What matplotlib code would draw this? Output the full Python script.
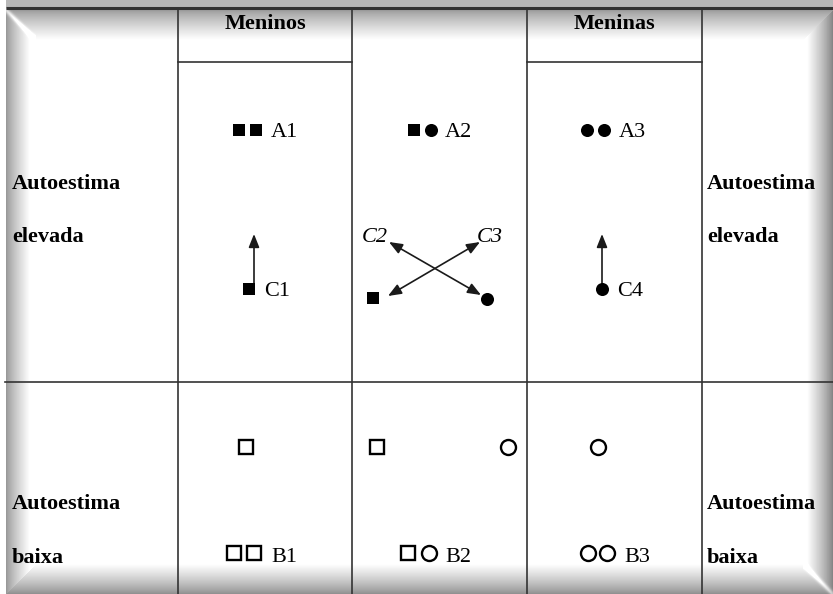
import numpy as np
import matplotlib
matplotlib.use('Agg')
import matplotlib.pyplot as plt
from matplotlib.patches import FancyArrowPatch

W, H = 833, 594

# ---------------- content ----------------
col_headers = ['Meninos', 'Meninas']
side_high = ['Autoestima', 'elevada']
side_low = ['Autoestima', 'baixa']

high_groups = [('A1', ['s', 's']), ('A2', ['s', 'o']), ('A3', ['o', 'o'])]
low_groups = [('B1', ['s', 's']), ('B2', ['s', 'o']), ('B3', ['o', 'o'])]
change_groups = [('C1', 's'), ('C4', 'o')]
cross_labels = ['C2', 'C3']
cross_symbols = ['s', 'o']
single_low = ['s', 's', 'o', 'o']

# ---------------- layout (pixels) ----------------
col_x = [178, 352, 527, 702]
header_y = 62
mid_y = 382
top_y = 8

fig = plt.figure(figsize=(W / 100, H / 100), dpi=100)
ax = fig.add_axes([0, 0, 1, 1])
ax.set_xlim(0, W)
ax.set_ylim(H, 0)
ax.axis('off')

# ---- bevel shadow frame ----
yy, xx = np.mgrid[0:H, 0:W] + 0.5
dl = xx - 6
dt = yy - 10
dr = W - xx
db = H - yy

def prof(d, width, dark):
    t = np.clip(d / width, 0, 1)
    return dark + (1 - dark) * t ** 0.8

shades = np.stack([prof(dl, 24, 0.58), prof(dt, 30, 0.6),
                   prof(dr, 26, 0.5), prof(db, 30, 0.55)])
dists = np.stack([dl, dt, dr, db])
near = np.argmin(dists, axis=0)
shade = np.take_along_axis(shades, near[None], 0)[0]
hl = np.exp(-((dl - dt) ** 2) / 10.0) * (dl < 30)
hl2 = np.exp(-((dr - db) ** 2) / 10.0) * (dr < 30)
shade = np.clip(shade + 0.25 * hl + 0.25 * hl2, 0, 1)
shade[:, :6] = 1.0
band = (yy < 7) & (xx >= 6)
shade[band] = 0.72
shade[:7, :6] = 1.0
ax.imshow(shade, cmap='gray', vmin=0, vmax=1, extent=(0, W, H, 0),
          interpolation='bilinear', zorder=0, aspect='auto')

# ---- table lines ----
lc = '#333333'
ax.plot([6, W], [top_y, top_y], color=lc, lw=2.2, zorder=2,
        solid_capstyle='butt')
for x in col_x:
    ax.plot([x, x], [top_y, H], color=lc, lw=1.2, zorder=2)
for x0, x1 in [(col_x[0], col_x[1]), (col_x[2], col_x[3])]:
    ax.plot([x0, x1], [header_y, header_y], color=lc, lw=1.2, zorder=2)
ax.plot([5, W], [mid_y, mid_y], color=lc, lw=1.2, zorder=2)

serif = ['Liberation Serif', 'DejaVu Serif']
fs = 16

for cx, t in zip([(col_x[0] + col_x[1]) / 2, (col_x[2] + col_x[3]) / 2],
                 col_headers):
    ax.text(cx, 29, t, ha='center', va='baseline', fontsize=fs,
            fontweight='bold', family=serif, zorder=3)

for xs in [12, 707]:
    for t, yb in zip(side_high, [189, 242]):
        ax.text(xs, yb, t, ha='left', va='baseline', fontsize=fs,
                fontweight='bold', family=serif, zorder=3)
    for t, yb in zip(side_low, [509, 563]):
        ax.text(xs, yb, t, ha='left', va='baseline', fontsize=fs,
                fontweight='bold', family=serif, zorder=3)

def mark(x, y, m, filled, size=None):
    if filled:
        ms = size or (9.2 if m == 's' else 9.4)
        ax.plot(x, y, marker=m, ms=ms, color='black', mec='black', mew=0,
                zorder=4, linestyle='none')
    else:
        ms = size or (10.2 if m == 's' else 10.8)
        ax.plot(x, y, marker=m, ms=ms, mfc='white', mec='black', mew=1.7,
                zorder=4, linestyle='none')

# high self-esteem groups
a_pos = [(239, 256, 271), (414, 431, 445), (587, 604, 619)]
for (lab, syms), (x1, x2, xl) in zip(high_groups, a_pos):
    mark(x1, 130, syms[0], True)
    mark(x2, 130, syms[1], True)
    ax.text(xl, 137, lab, ha='left', va='baseline', fontsize=fs,
            family=serif, zorder=3)

# low self-esteem groups
b_pos = [(234.5, 254, 271), (408, 429, 445), (588, 607, 624)]
for (lab, syms), (x1, x2, xl) in zip(low_groups, b_pos):
    mark(x1, 553, syms[0], False)
    mark(x2, 553, syms[1], False)
    ax.text(xl, 562, lab, ha='left', va='baseline', fontsize=fs,
            family=serif, zorder=3)

for x, m in zip([246, 377, 508, 598], single_low):
    mark(x, 447, m, False)

def arrow(p0, p1, style='-|>'):
    a = FancyArrowPatch(p0, p1,
                        arrowstyle=style + ',head_length=0.8,head_width=0.32',
                        mutation_scale=10, lw=1.2, color='#1a1a1a',
                        shrinkA=0, shrinkB=0, zorder=3)
    ax.add_patch(a)

# upward changes C1 / C4
for (lab, m), (xm, xa, xl) in zip(change_groups, [(249.5, 254, 264),
                                                   (602, 602, 617)]):
    mark(xm, 289, m, True)
    arrow((xa, 283), (xa, 234))
    ax.text(xl, 296, lab, ha='left', va='baseline', fontsize=fs,
            family=serif, zorder=3)

# crossing changes C2 / C3
mark(373, 298, cross_symbols[0], True)
mark(487, 299, cross_symbols[1], True)
arrow((389, 242), (481, 295), '<|-|>')
arrow((388, 296), (480, 242), '<|-|>')
for t, x in zip(cross_labels, [362, 477]):
    ax.text(x, 242, t, ha='left', va='baseline', fontsize=fs,
            family=serif, style='italic', zorder=3)

fig.savefig('out.png', dpi=100)
